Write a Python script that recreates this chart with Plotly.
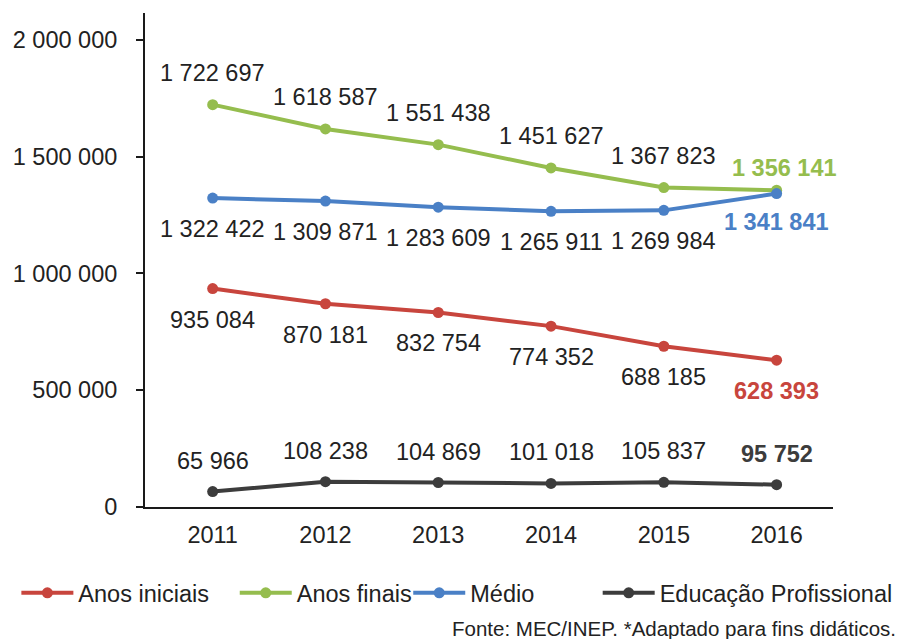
import plotly.graph_objects as go

years = ["2011", "2012", "2013", "2014", "2015", "2016"]
anos_iniciais = [935084, 870181, 832754, 774352, 688185, 628393]
anos_finais = [1722697, 1618587, 1551438, 1451627, 1367823, 1356141]
medio = [1322422, 1309871, 1283609, 1265911, 1269984, 1341841]
educ_prof = [65966, 108238, 104869, 101018, 105837, 95752]

y_ticks = [0, 500000, 1000000, 1500000, 2000000]

# name, values, colour, label yshift, last-label xshift, last-label yshift, legend text start (px)
series = [
    ("Anos iniciais", anos_iniciais, "#C8453D", -31, 0, -31, 72),
    ("Anos finais", anos_finais, "#95BD4E", 32, 8, 22, 291),
    ("Médio", medio, "#4A80C6", -31, 0, -28, 465),
    ("Educação Profissional", educ_prof, "#3C3C3C", 31, 0, 31, 655),
]

FONT = "Liberation Sans, Arial, sans-serif"
FS = 23.5
L, R, T, B = 135, 70, 5, 132
W, H = 895, 631
PW = W - L - R
PH = H - T - B
ITEMW = 52


def fmt(v):
    return f"{v:,}".replace(",", " ")


fig = go.Figure()
annotations = []
legends = {}
for k, (name, vals, color, yshift, lx, lys, leg_px) in enumerate(series):
    lname = "legend" if k == 0 else f"legend{k + 1}"
    fig.add_trace(go.Scatter(
        x=years, y=vals, name=name, mode="lines+markers",
        line=dict(color=color, width=4),
        marker=dict(color=color, size=11),
        legend=lname,
    ))
    legends[lname] = dict(
        orientation="h", x=(leg_px - (ITEMW + 14) - L) / PW, xanchor="left",
        y=(PH - (585 - T)) / PH, yanchor="middle",
        font=dict(family=FONT, size=FS, color="#222222"),
        bgcolor="rgba(0,0,0,0)", itemwidth=ITEMW,
    )
    for i, v in enumerate(vals):
        last = i == len(vals) - 1
        annotations.append(dict(
            x=i, y=v, xref="x", yref="y",
            text=f"<b>{fmt(v)}</b>" if last else fmt(v),
            showarrow=False,
            yshift=lys if last else yshift,
            xshift=lx if last else 0,
            font=dict(family=FONT, size=FS, color=color if last else "#222222"),
        ))

annotations.append(dict(
    x=1, xref="paper", xanchor="right", xshift=(W - 5) - (L + PW),
    y=0, yref="paper", yanchor="middle", yshift=-(620 - (T + PH)),
    text="Fonte: MEC/INEP. *Adaptado para fins didáticos.",
    showarrow=False,
    font=dict(family=FONT, size=20.5, color="#222222"),
))

fig.update_layout(
    width=W, height=H,
    margin=dict(l=L, r=R, t=T, b=B),
    paper_bgcolor="white", plot_bgcolor="white",
    font=dict(family=FONT, size=FS, color="#222222"),
    separators=", ",
    showlegend=True,
    annotations=annotations,
    **legends,
)
fig.update_xaxes(
    type="category", range=[-0.6, 5.5],
    showline=True, linecolor="#1a1a1a", linewidth=2,
    showgrid=False, ticks="", ticklabelstandoff=6,
    tickfont=dict(family=FONT, size=FS, color="#222222"),
)
fig.update_yaxes(
    range=[0, 2115000], tickvals=y_ticks, tickformat=",d",
    showline=True, linecolor="#1a1a1a", linewidth=2,
    showgrid=False, zeroline=False,
    ticks="outside", ticklen=7, tickwidth=2, tickcolor="#1a1a1a",
    ticklabelstandoff=14,
    tickfont=dict(family=FONT, size=FS, color="#222222"),
)

fig.write_html("out.html")
